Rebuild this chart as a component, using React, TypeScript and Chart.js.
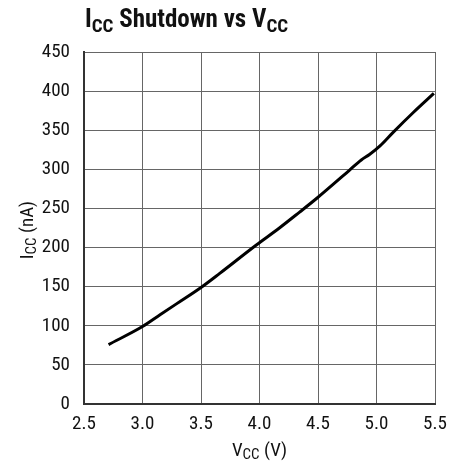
import React, { useEffect, useRef } from "react";
import { Chart, registerables } from "chart.js";

Chart.register(...registerables);

const vcc = [2.71, 3.0, 3.15, 3.29, 3.5, 3.66, 3.97, 4.17, 4.34, 4.49, 4.77, 4.87, 4.94, 5.03, 5.14, 5.31, 5.49];
const icc = [76, 99, 114, 128, 149, 167, 203, 225, 245, 263, 299, 312, 319, 330, 347, 372, 397];

const FONT = '"Liberation Sans Narrow", "Roboto Condensed", "Arial Narrow", "Liberation Sans", sans-serif';

function drawSub(ctx: CanvasRenderingContext2D, parts: [string, boolean][], x: number, y: number, size: number, subSize: number, subDrop: number, weight: string, align: "left" | "center") {
  const widths = parts.map(([t, sub]) => {
    ctx.font = `${weight} ${sub ? subSize : size}px ${FONT}`;
    return ctx.measureText(t).width;
  });
  const total = widths.reduce((a, b) => a + b, 0);
  let cx = align === "center" ? x - total / 2 : x;
  parts.forEach(([t, sub], i) => {
    ctx.font = `${weight} ${sub ? subSize : size}px ${FONT}`;
    ctx.fillText(t, cx, sub ? y + subDrop : y);
    cx += widths[i];
  });
}

const textPlugin = {
  id: "textPlugin",
  afterDraw(chart: any) {
    const ctx = chart.ctx as CanvasRenderingContext2D;
    const area = chart.chartArea;
    ctx.save();
    ctx.fillStyle = "#111";
    ctx.textAlign = "left";
    ctx.textBaseline = "alphabetic";
    drawSub(ctx, [["I", false], ["CC", true], [" Shutdown vs V", false], ["CC", true]], 85, 27, 25, 19, 5, "bold", "left");
    drawSub(ctx, [["V", false], ["CC", true], [" (V)", false]], (area.left + area.right) / 2, 456, 19, 15, 3, "normal", "center");
    ctx.translate(33, 230);
    ctx.rotate(-Math.PI / 2);
    drawSub(ctx, [["I", false], ["CC", true], [" (nA)", false]], 0, 0, 19, 15, 3, "normal", "center");
    ctx.restore();
  },
};

export default function App() {
  const ref = useRef<HTMLCanvasElement>(null);
  useEffect(() => {
    const chart = new Chart(ref.current!, {
      type: "scatter",
      data: {
        datasets: [
          {
            data: vcc.map((v, i) => ({ x: v, y: icc[i] })),
            showLine: true,
            borderColor: "#000",
            borderWidth: 3,
            pointRadius: 0,
            cubicInterpolationMode: "monotone",
          },
        ],
      },
      options: {
        animation: false,
        responsive: false,
        layout: { padding: { left: 0, right: 28, top: 52, bottom: 0 } },
        plugins: { legend: { display: false }, tooltip: { enabled: false } },
        scales: {
          x: {
            type: "linear",
            min: 2.5,
            max: 5.5,
            afterFit: (s: any) => { s.height = 58; },
            ticks: {
              stepSize: 0.5,
              padding: 9,
              color: "#111",
              font: { family: FONT, size: 19 },
              callback: (v: any) => Number(v).toFixed(1),
            },
            grid: { color: "#666", lineWidth: 1, drawTicks: false },
            border: { color: "#333", width: 2 },
          },
          y: {
            min: 0,
            max: 450,
            afterFit: (s: any) => { s.width = 84; },
            ticks: {
              stepSize: 50,
              padding: 14,
              color: "#111",
              font: { family: FONT, size: 19 },
            },
            grid: { color: "#666", lineWidth: 1, drawTicks: false },
            border: { color: "#333", width: 2 },
          },
        },
      },
      plugins: [textPlugin],
    });
    return () => chart.destroy();
  }, []);
  return (
    <div style={{ position: "fixed", left: 0, top: 0, width: 463, height: 462, background: "#fff" }}>
      <canvas ref={ref} width={463} height={462} />
    </div>
  );
}
